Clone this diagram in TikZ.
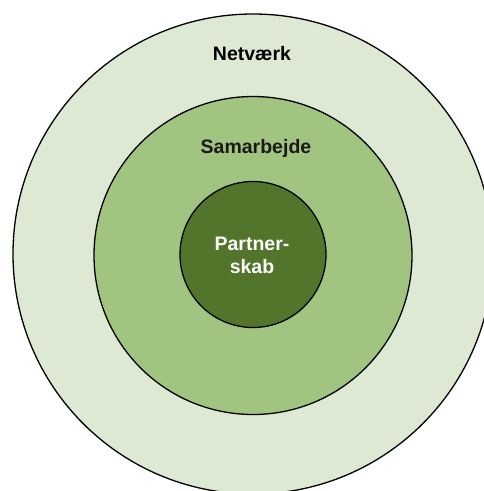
\documentclass[tikz,border=0pt]{standalone}
\usepackage{fontspec}
\setmainfont{Liberation Sans}
\definecolor{ringouter}{RGB}{222,233,212}
\definecolor{ringmid}{RGB}{161,196,128}
\definecolor{ringinner}{RGB}{82,116,43}
\begin{document}
\begin{tikzpicture}[x=1pt,y=-1pt,
  ring/.style={circle,draw=black,line width=1.3pt,inner sep=0pt},
  lbl/.style={font=\bfseries\fontsize{19.5}{23}\selectfont,align=center,inner sep=0pt}]
\useasboundingbox (0,0) rectangle (484,491);
\clip (0,0) rectangle (484,491);
\node[ring,fill=ringouter,minimum size=480pt] (outer) at (253,254) {};
\node[ring,fill=ringmid,minimum size=318pt] (mid) at (253,255.5) {};
\node[ring,fill=ringinner,minimum size=146pt] (inner) at (253,254.5) {};
\node[lbl,text=black] (tnet) at (252,54) {Netværk};
\node[lbl,text=black!90] (tsam) at (256,148) {Samarbejde};
\node[lbl,text=white] (tpar) at (252,255.5) {Partner-\\skab};
\end{tikzpicture}
\end{document}
